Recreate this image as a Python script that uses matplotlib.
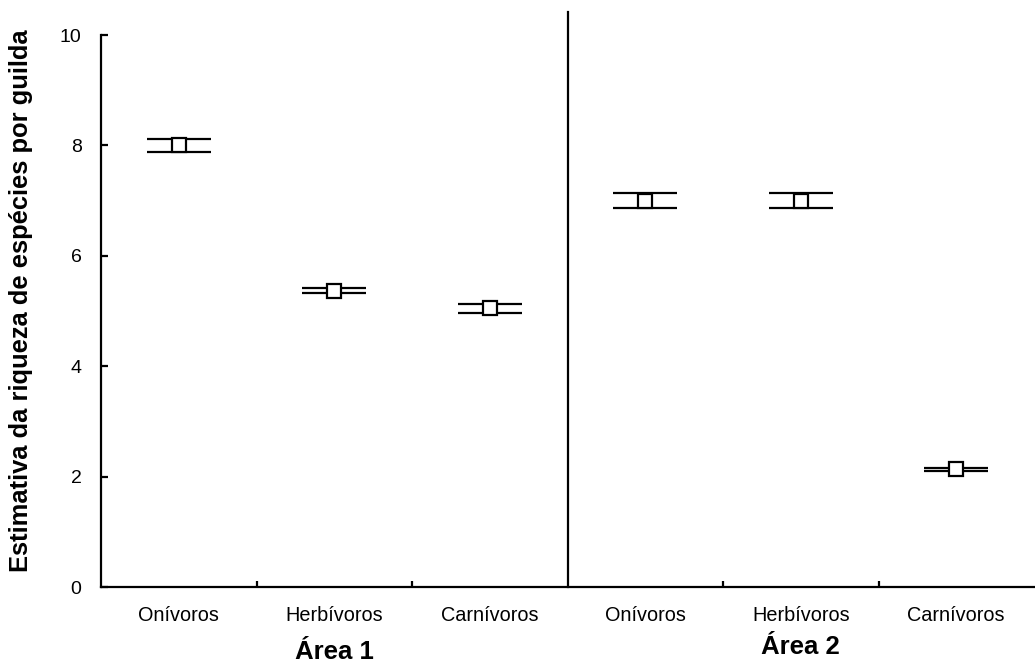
import matplotlib.pyplot as plt
from matplotlib.transforms import blended_transform_factory

plt.rcParams['font.family'] = ['Liberation Sans', 'DejaVu Sans']

categories = ['Onívoros', 'Herbívoros', 'Carnívoros', 'Onívoros', 'Herbívoros', 'Carnívoros']
means = [8.0, 5.37, 5.05, 7.0, 7.0, 2.13]
errors = [0.12, 0.05, 0.08, 0.14, 0.13, 0.02]
areas = ['Área 1', 'Área 2']
y_ticks = [0, 2, 4, 6, 8, 10]

fig = plt.figure(figsize=(10.35, 6.63), dpi=100)
ax = fig.add_axes([101 / 1035, 1 - 587 / 663, 933 / 1035, 552 / 663])

x = list(range(len(categories)))
half = 0.205
ax.hlines([m + e for m, e in zip(means, errors)], [i - half for i in x], [i + half for i in x],
          color='black', linewidth=1.6, zorder=2)
ax.hlines([m - e for m, e in zip(means, errors)], [i - half for i in x], [i + half for i in x],
          color='black', linewidth=1.6, zorder=2)
ax.plot(x, means, linestyle='none', marker='s', markersize=10.5, markerfacecolor='white',
        markeredgecolor='black', markeredgewidth=1.6, zorder=3)

# divider between the two areas
ax.plot([2.5, 2.5], [0, 10.42], color='black', linewidth=1.6, clip_on=False)

ax.set_xlim(-0.5, 5.5)
ax.set_ylim(0, 10)
ax.spines['top'].set_visible(False)
ax.spines['right'].set_visible(False)
for s in ['left', 'bottom']:
    ax.spines[s].set_linewidth(1.6)

ax.set_yticks(y_ticks)
ax.tick_params(axis='y', direction='in', length=5, width=1.6, labelsize=14, pad=14)
ax.set_xticks(x)
ax.set_xticklabels(categories)
ax.tick_params(axis='x', which='major', length=0, labelsize=14.3, pad=14)
ax.set_xticks([0.5, 1.5, 3.5, 4.5], minor=True)
ax.tick_params(axis='x', which='minor', direction='in', length=4, width=1.6)

ax.set_ylabel('Estimativa da riqueza de espécies por guilda', fontsize=18.4,
              fontweight='bold')
ax.yaxis.set_label_coords(-0.073, 0.518)

trans = blended_transform_factory(ax.transData, fig.transFigure)
for cx, by, name in zip([1.0, 4.0], [659, 654], areas):
    ax.text(cx, 1 - by / 663, name, transform=trans, ha='center', va='baseline',
            fontsize=18.5, fontweight='bold')

plt.savefig('out.png', dpi=100)
